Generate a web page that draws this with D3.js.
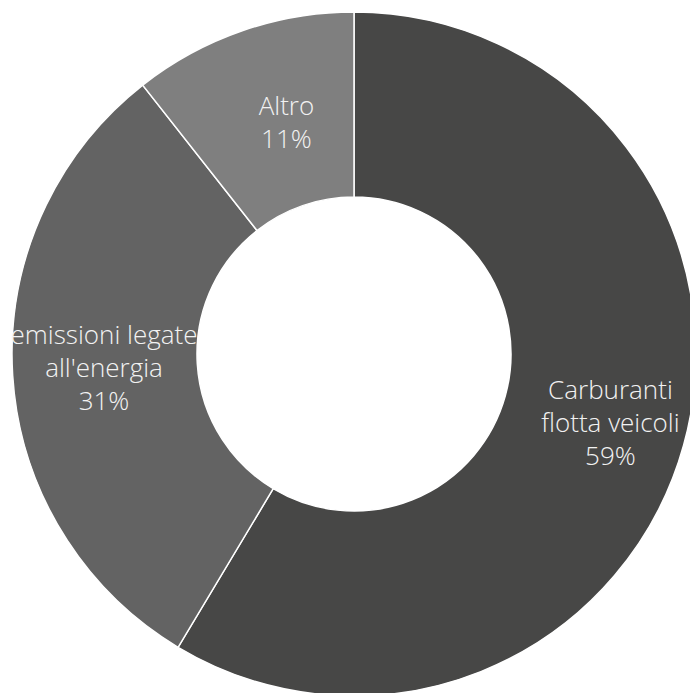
<!DOCTYPE html>
<html>
<head>
<meta charset="utf-8">
<script src="https://cdn.jsdelivr.net/npm/d3@7"></script>
<style>
  body { margin: 0; background: #fff; }
  #chart text { font-family: "Open Sans", sans-serif; font-weight: 300; fill: #f2f2f2; }
</style>
</head>
<body>
<div id="chart"></div>
<script>
// slice data (share of emissions, %)
var categories = [["Carburanti", "flotta veicoli"], ["emissioni legate", "all'energia"], ["Altro"]];
var values = [58.6, 30.8, 10.6];
var colors = ["#474746", "#636363", "#7f7f7f"];

var width = 690, height = 693;
var cx = 354, cy = 354;
var outerR = 342, innerR = 157;

var svg = d3.select("#chart")
  .append("svg")
    .attr("width", width)
    .attr("height", height);

var g = svg.append("g")
  .attr("transform", "translate(" + cx + "," + cy + ")");

var pie = d3.pie().sort(null).value(function(d){ return d; });
var arc = d3.arc().innerRadius(innerR).outerRadius(outerR);
var arcs = pie(values);

g.selectAll("path.slice")
  .data(arcs)
  .enter().append("path")
    .attr("class", "slice")
    .attr("d", arc)
    .attr("fill", function(d, i){ return colors[i]; })
    .attr("stroke", "#fff")
    .attr("stroke-width", 1.5);

// labels: category lines + rounded percent, at ring midpoint
var lineH = 33;
var labels = g.selectAll("text.lbl")
  .data(arcs)
  .enter().append("text")
    .attr("class", "lbl")
    .attr("text-anchor", "middle")
    .style("font-size", "26px")
    .attr("transform", function(d){
      var c = arc.centroid(d);
      if(d.index == 0) c = [c[0] + 16, c[1] + 2];
      if(d.index == 1) c = [c[0] - 1, c[1] - 2];
      if(d.index == 2) c = [c[0] + 14, c[1] + 4];
      return "translate(" + c[0] + "," + c[1] + ")";
    });

labels.each(function(d, i){
  var lines = categories[i].concat([Math.round(values[i]) + "%"]);
  var t = d3.select(this);
  var y0 = -(lines.length - 1) * lineH / 2 + 9;
  lines.forEach(function(l, j){
    t.append("tspan")
      .attr("x", 0)
      .attr("y", y0 + j * lineH)
      .text(l);
  });
});
</script>
</body>
</html>
